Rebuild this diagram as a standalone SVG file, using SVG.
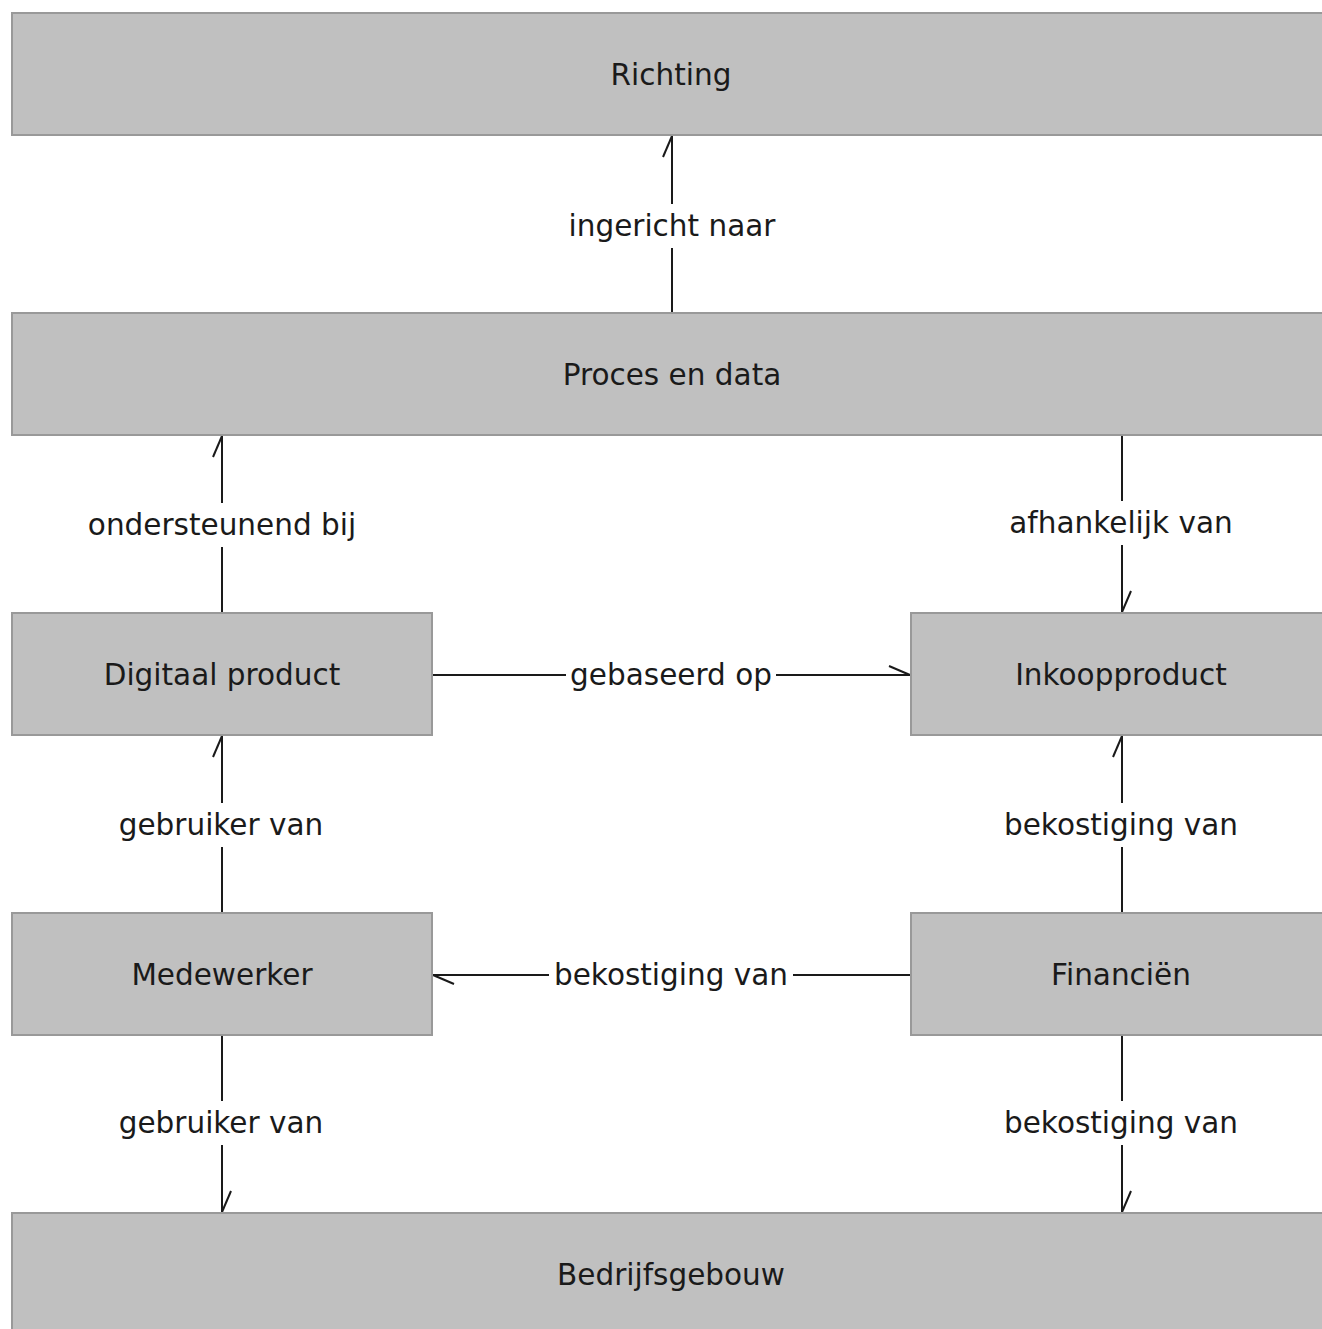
<svg xmlns="http://www.w3.org/2000/svg" width="1322" height="1329" viewBox="0 0 1322 1329">
<style>
.box{fill:#c0c0c0;stroke:#999;stroke-width:2}
.nt{font-family:"DejaVu Sans",sans-serif;font-size:29.5px;fill:#1a1a1a;text-anchor:middle}
.lt{font-family:"DejaVu Sans",sans-serif;font-size:29.5px;fill:#1a1a1a;text-anchor:middle}
.ln{stroke:#1a1a1a;stroke-width:2;fill:none;marker-end:url(#half)}
.bg{fill:#fff}
</style>
<defs>
<marker id="half" markerUnits="userSpaceOnUse" orient="auto" markerWidth="30" markerHeight="30" refX="0" refY="0" viewBox="-25 -15 30 30" overflow="visible">
<path d="M-21,-9 L0,0" stroke="#1a1a1a" stroke-width="2" fill="none"/>
</marker>
</defs>
<rect width="1322" height="1329" fill="#fff"/>
<g id="connectors">
<line class="ln" x1="672" y1="313" x2="672" y2="136"/>
<line class="ln" x1="222" y1="613" x2="222" y2="436"/>
<line class="ln" x1="1122" y1="435" x2="1122" y2="612"/>
<line class="ln" x1="432" y1="675" x2="910" y2="675"/>
<line class="ln" x1="222" y1="913" x2="222" y2="736"/>
<line class="ln" x1="1122" y1="913" x2="1122" y2="736"/>
<line class="ln" x1="911" y1="975" x2="433" y2="975"/>
<line class="ln" x1="222" y1="1035" x2="222" y2="1212"/>
<line class="ln" x1="1122" y1="1035" x2="1122" y2="1212"/>
<rect class="bg" x="565" y="204" width="214" height="44"/>
<text class="lt" x="672" y="236">ingericht naar</text>
<rect class="bg" x="83" y="503" width="277" height="44"/>
<text class="lt" x="222" y="535">ondersteunend bij</text>
<rect class="bg" x="1007" y="501" width="228" height="44"/>
<text class="lt" x="1121" y="533">afhankelijk van</text>
<rect class="bg" x="566" y="653" width="210" height="44"/>
<text class="lt" x="671" y="685">gebaseerd op</text>
<rect class="bg" x="114" y="803" width="214" height="44"/>
<text class="lt" x="221" y="835">gebruiker van</text>
<rect class="bg" x="999" y="803" width="244" height="44"/>
<text class="lt" x="1121" y="835">bekostiging van</text>
<rect class="bg" x="549" y="953" width="244" height="44"/>
<text class="lt" x="671" y="985">bekostiging van</text>
<rect class="bg" x="114" y="1101" width="214" height="44"/>
<text class="lt" x="221" y="1133">gebruiker van</text>
<rect class="bg" x="999" y="1101" width="244" height="44"/>
<text class="lt" x="1121" y="1133">bekostiging van</text>
</g>
<g id="richting"><rect class="box" x="12" y="13" width="1320" height="122"/><text class="nt" x="671" y="85">Richting</text></g>
<g id="proces-en-data"><rect class="box" x="12" y="313" width="1320" height="122"/><text class="nt" x="672" y="385">Proces en data</text></g>
<g id="digitaal-product"><rect class="box" x="12" y="613" width="420" height="122"/><text class="nt" x="222" y="685">Digitaal product</text></g>
<g id="inkoopproduct"><rect class="box" x="911" y="613" width="420" height="122"/><text class="nt" x="1121" y="685">Inkoopproduct</text></g>
<g id="medewerker"><rect class="box" x="12" y="913" width="420" height="122"/><text class="nt" x="222" y="985">Medewerker</text></g>
<g id="financien"><rect class="box" x="911" y="913" width="420" height="122"/><text class="nt" x="1121" y="985">Financiën</text></g>
<g id="bedrijfsgebouw"><rect class="box" x="12" y="1213" width="1320" height="122"/><text class="nt" x="671" y="1285">Bedrijfsgebouw</text></g>
</svg>
